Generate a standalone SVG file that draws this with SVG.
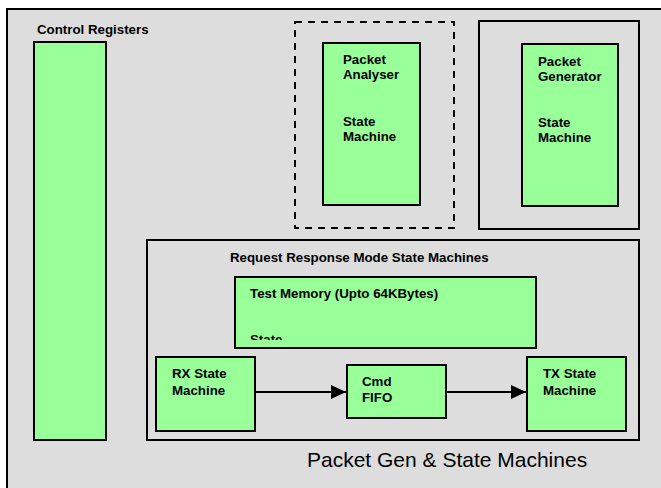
<svg xmlns="http://www.w3.org/2000/svg" width="661" height="488" viewBox="0 0 661 488">
<defs>
<style>
.frame{fill:#DDDDDD;stroke:#000;stroke-width:2}
.node{fill:#99FF99;stroke:#000;stroke-width:2}
.dash{fill:none;stroke:#000;stroke-width:2;stroke-dasharray:7 6}
.t{font-family:"Liberation Sans",Arial,sans-serif;font-weight:bold;font-size:13.3px;fill:#000}
.big{font-family:"Liberation Sans",Arial,sans-serif;font-size:21px;fill:#000}
.edge{stroke:#000;stroke-width:2;fill:none}
</style>
<marker id="ah" markerWidth="16" markerHeight="14" refX="15" refY="7" orient="auto" markerUnits="userSpaceOnUse">
<path d="M0,0 L15,7 L0,14 Z" fill="#000"/>
</marker>
<clipPath id="memclip"><rect x="235" y="277" width="301" height="63"/></clipPath>
</defs>
<rect x="0" y="0" width="661" height="488" fill="#fff"/>
<g id="outer">
<rect class="frame" x="7" y="9" width="700" height="500" stroke="#222"/>
<text class="big" x="307" y="467">Packet Gen &amp; State Machines</text>
</g>
<g id="control-registers">
<text class="t" x="37" y="33.5">Control Registers</text>
<rect class="node" x="34" y="42" width="72" height="398"/>
</g>
<g id="analyser-group">
<rect class="dash" x="295" y="22" width="159" height="206"/>
</g>
<g id="packet-analyser">
<rect class="node" x="323" y="43" width="97" height="162"/>
<text class="t" x="343" y="64">Packet</text>
<text class="t" x="343" y="79">Analyser</text>
<text class="t" x="343" y="126">State</text>
<text class="t" x="343" y="141">Machine</text>
</g>
<g id="generator-group">
<rect class="frame" x="479" y="21" width="160" height="208"/>
</g>
<g id="packet-generator">
<rect class="node" x="522" y="44" width="96" height="162"/>
<text class="t" x="538" y="66">Packet</text>
<text class="t" x="538" y="81">Generator</text>
<text class="t" x="538" y="127">State</text>
<text class="t" x="538" y="142">Machine</text>
</g>
<g id="request-response">
<rect class="frame" x="147" y="240" width="492" height="200"/>
<text class="t" x="230" y="262">Request Response Mode State Machines</text>
</g>
<g id="test-memory">
<rect class="node" x="235" y="277" width="301" height="71"/>
<text class="t" x="250" y="298">Test Memory (Upto 64KBytes)</text>
<text class="t" x="250" y="344" clip-path="url(#memclip)">State</text>
</g>
<g id="rx-state-machine">
<rect class="node" x="156" y="357" width="99" height="74"/>
<text class="t" x="172" y="378">RX State</text>
<text class="t" x="172" y="395">Machine</text>
</g>
<g id="cmd-fifo">
<rect class="node" x="347" y="365" width="99" height="53"/>
<text class="t" x="362" y="386">Cmd</text>
<text class="t" x="362" y="402">FIFO</text>
</g>
<g id="tx-state-machine">
<rect class="node" x="527" y="357" width="99" height="74"/>
<text class="t" x="543" y="378">TX State</text>
<text class="t" x="543" y="395">Machine</text>
</g>
<g id="connectors">
<line class="edge" x1="255" y1="392" x2="346" y2="392" marker-end="url(#ah)"/>
<line class="edge" x1="446" y1="392" x2="526" y2="392" marker-end="url(#ah)"/>
</g>
</svg>
